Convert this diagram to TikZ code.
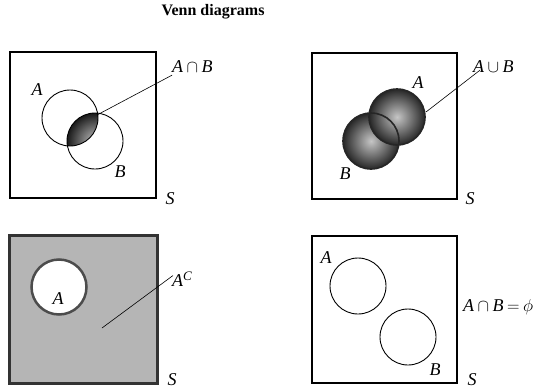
\documentclass[tikz,border=0pt]{standalone}
\usepackage{fontspec}
\setmainfont{Liberation Serif}
\newcommand{\opgap}{\hspace{3.5pt}}
\begin{document}
\begin{tikzpicture}[x=1pt,y=-1pt,
  frame/.style={draw=black, line width=1.1pt},
  setc/.style={circle, draw=black, line width=0.9pt, minimum size=56pt, inner sep=0pt},
  lbl/.style={font=\fontsize{18}{18}\selectfont\itshape, inner sep=0pt},
  conn/.style={draw=black, line width=0.6pt}]
\useasboundingbox (0,0) rectangle (560,391);
% title
\node[font=\fontsize{16}{16}\selectfont\bfseries, inner sep=0pt] (title) at (213,12) {Venn diagrams};

% ---------- top left: intersection ----------
\node[frame, minimum width=146pt, minimum height=146pt, inner sep=0pt] (S1) at (83,125) {};
\begin{scope}
  \clip (70,118) circle[radius=28];
  \shade[inner color=gray!50, outer color=black!90] (95,141) circle[radius=28];
\end{scope}
\node[setc] (A1) at (70,118) {};
\node[setc] (B1) at (95,141) {};
\node[lbl] (lA1) at (37,90) {A};
\node[lbl] (lB1) at (120,172) {B};
\node[lbl] (lS1) at (170,199) {S};
\node[lbl, anchor=west] (lAB1) at (172,67) {A\opgap$\cap$\opgap B};
\coordinate (p1) at (97,115);
\path (lAB1.south west) ++(0,-2pt) coordinate (q1);
\draw[conn] (q1) -- (p1);

% ---------- top right: union ----------
\node[frame, minimum width=145pt, minimum height=146pt, inner sep=0pt] (S2) at (384.5,126) {};
\shade[inner color=gray!45, outer color=black!85] (371,141) circle[radius=28];
\shade[inner color=gray!45, outer color=black!85] (397,117) circle[radius=28];
\node[setc, draw=black!85, line width=1.6pt] (B2) at (371,141) {};
\node[setc, draw=black!85, line width=1.6pt] (A2) at (397,117) {};
\node[lbl] (lA2) at (418,83) {A};
\node[lbl] (lB2) at (345,174) {B};
\node[lbl] (lS2) at (470,199) {S};
\node[lbl, anchor=west] (lAB2) at (473,67) {A\opgap$\cup$\opgap B};
\coordinate (p2) at (426,112);
\path (lAB2.south west) ++(7pt,3pt) coordinate (q2);
\draw[conn] (q2) -- (p2);

% ---------- bottom left: complement ----------
\node[inner sep=0pt, minimum width=148pt, minimum height=148pt, fill=gray!58, draw=black!80, line width=3pt] (S3) at (83,309) {};
\node[circle, minimum size=55pt, inner sep=0pt, fill=white, draw=black!70, line width=2.5pt] (A3) at (59,287) {};
\node[lbl] (lA3) at (58,299) {A};
\node[lbl] (lS3) at (172,380) {S};
\node[lbl, anchor=west] (lAC) at (172,279) {A\raisebox{6pt}{\fontsize{13}{13}\selectfont C}};
\coordinate (p3) at (102,328);
\path (lAC.south west) ++(1pt,11pt) coordinate (q3);
\draw[conn] (q3) -- (p3);

% ---------- bottom right: disjoint ----------
\node[frame, minimum width=145pt, minimum height=147pt, inner sep=0pt] (S4) at (384.5,309.5) {};
\node[setc] (A4) at (358,286) {};
\node[setc] (B4) at (408,337) {};
\node[lbl] (lA4) at (326,258) {A};
\node[lbl] (lB4) at (435,370) {B};
\node[lbl] (lS4) at (472,380) {S};
\node[lbl, anchor=west] (lE) at (463,307) {A\opgap$\cap$\opgap B\opgap$=$\opgap$\phi$};
\end{tikzpicture}
\end{document}
